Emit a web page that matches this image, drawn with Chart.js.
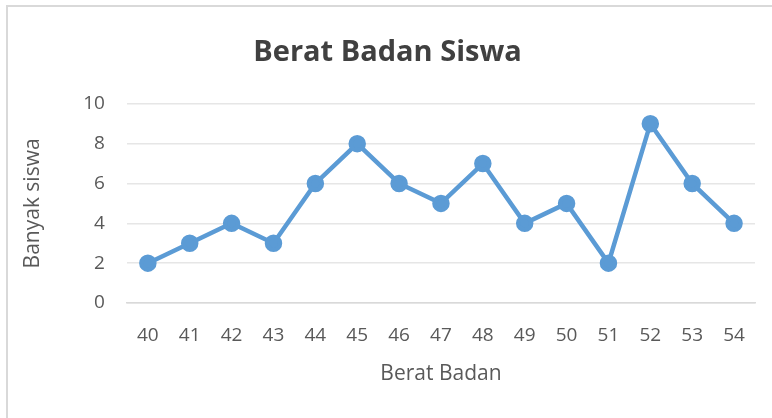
<!DOCTYPE html>
<html>
<head>
<meta charset="utf-8">
<script src="https://cdn.jsdelivr.net/npm/chart.js@4"></script>
<style>
	html, body { margin: 0; padding: 0; background: #fff; }
	#wrap { position: relative; width: 772px; height: 418px; }
	#frame {
		position: absolute; left: 6px; top: 5px; right: -10px; bottom: -10px;
		border-left: 2px solid #d9d9d9; border-top: 2px solid #d9d9d9;
	}
	canvas { position: absolute; left: 0; top: 0; }
</style>
</head>
<body>
<div id="wrap">
	<div id="frame"></div>
	<canvas id="lineChart" width="772" height="418"></canvas>
</div>
<script>
const beratBadan = ['40', '41', '42', '43', '44', '45', '46', '47', '48', '49', '50', '51', '52', '53', '54'];
const banyakSiswa = [2, 3, 4, 3, 6, 8, 6, 5, 7, 4, 5, 2, 9, 6, 4];
const yTicks = [0, 2, 4, 6, 8, 10];

const fontFamily = "'Open Sans', 'Liberation Sans', sans-serif";
const textColor = '#595959';

const ctx = document.getElementById('lineChart').getContext('2d');

let data = {
	labels: beratBadan,
	datasets: [
		{
			label: 'Banyak siswa',
			data: banyakSiswa,
			borderColor: '#5b9bd5',
			backgroundColor: '#5b9bd5',
			borderWidth: 4.5,
			pointRadius: 6.5,
			pointHoverRadius: 6.5,
			tension: 0,
		},
	],
};

let options = {
	responsive: false,
	animation: false,
	layout: {
		padding: { left: 20, right: 17, top: 22, bottom: 31 },
	},
	plugins: {
		legend: { display: false },
		tooltip: { enabled: false },
		title: {
			display: true,
			text: 'Berat Badan Siswa',
			color: '#404040',
			font: { family: fontFamily, size: 29, weight: 'bold' },
			padding: { top: 13, bottom: 34 },
		},
	},
	scales: {
		x: {
			offset: true,
			grid: { display: false, drawTicks: false },
			border: { display: true, color: '#d9d9d9', width: 1.5 },
			ticks: { color: textColor, font: { family: fontFamily, size: 19 }, padding: 21 },
			title: {
				display: true,
				text: 'Berat Badan',
				color: textColor,
				font: { family: fontFamily, size: 21 },
				padding: { top: -6, bottom: 0 },
			},
		},
		y: {
			min: 0,
			max: 10,
			afterBuildTicks: (axis) => {
				axis.ticks = yTicks.map((v) => ({ value: v }));
			},
			grid: { color: '#e6e6e6', lineWidth: 1.5, drawTicks: false },
			border: { display: false },
			ticks: { color: textColor, font: { family: fontFamily, size: 19 }, padding: 22 },
			title: {
				display: true,
				text: 'Banyak siswa',
				color: textColor,
				font: { family: fontFamily, size: 21 },
				padding: { top: 0, bottom: 16 },
			},
		},
	},
};

new Chart(ctx, { type: 'line', data, options });
</script>
</body>
</html>
